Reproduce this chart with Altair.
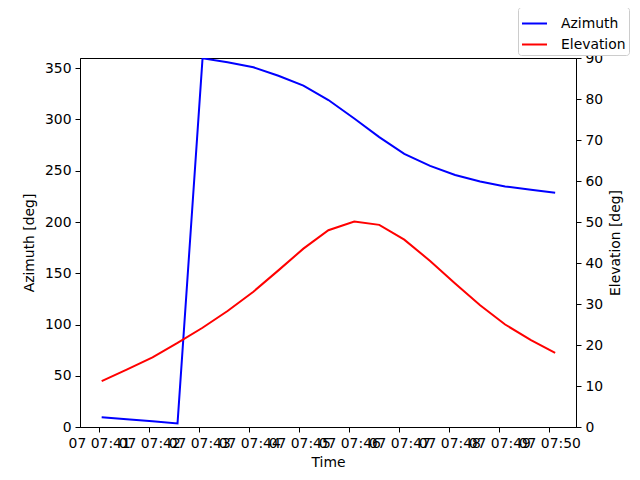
import altair as alt
import pandas as pd

times = [
    "2024-01-07T07:41:03", "2024-01-07T07:41:33", "2024-01-07T07:42:04", "2024-01-07T07:42:34",
    "2024-01-07T07:43:04", "2024-01-07T07:43:34", "2024-01-07T07:44:05", "2024-01-07T07:44:35",
    "2024-01-07T07:45:05", "2024-01-07T07:45:35", "2024-01-07T07:46:06", "2024-01-07T07:46:36",
    "2024-01-07T07:47:06", "2024-01-07T07:47:37", "2024-01-07T07:48:07", "2024-01-07T07:48:37",
    "2024-01-07T07:49:07", "2024-01-07T07:49:38", "2024-01-07T07:50:07",
]
azimuth = [9.5, 7.5, 5.5, 3.5, 359.7, 355.8, 351.0, 342.7, 333.0, 319.0, 301.0, 282.8,
           266.5, 254.8, 245.8, 239.5, 234.7, 231.4, 228.6]
elevation = [11.2, 14.0, 17.0, 20.5, 24.2, 28.3, 33.0, 38.2, 43.5, 48.0, 50.1, 49.3,
             45.7, 40.5, 35.0, 29.7, 25.0, 21.2, 18.1]

df = pd.DataFrame({"time": times, "azimuth": azimuth, "elevation": elevation})

FONT = "DejaVu Sans"
FS = 13.9

def dt(m, s):
    return alt.DateTime(year=2024, month=1, date=7, hours=7, minutes=m, seconds=s)

tick_values = [dt(m, 0) for m in range(41, 51)]

x_enc = alt.X(
    "time:T",
    scale=alt.Scale(domain=[dt(40, 37), dt(50, 32)]),
    axis=alt.Axis(
        values=tick_values, format="%d %H:%M", title="Time", labelOverlap=False,
        labelFlush=False, grid=False, tickSize=5, labelPadding=4, titlePadding=6,
        domainColor="black", tickColor="black", labelColor="black", titleColor="black",
        labelFont=FONT, titleFont=FONT, labelFontSize=FS, titleFontSize=FS,
        titleFontWeight="normal",
    ),
)

color_scale = alt.Scale(domain=["Azimuth", "Elevation"], range=["#0000ff", "#ff0000"])
legend = alt.Legend(
    title=None, orient="none", legendX=438, legendY=-51, symbolType="stroke",
    symbolSize=625, symbolStrokeWidth=2, labelFont=FONT, labelFontSize=FS,
    labelColor="black", strokeColor="#cccccc", fillColor="white", cornerRadius=3,
    padding=3, rowPadding=-4, labelOffset=13,
)

base = alt.Chart(df).encode(x=x_enc)

az = base.mark_line(strokeWidth=2, clip=True).transform_calculate(
    series="'Azimuth'"
).encode(
    y=alt.Y(
        "azimuth:Q",
        scale=alt.Scale(domain=[0, 360], nice=False, zero=True),
        axis=alt.Axis(
            orient="left", title="Azimuth [deg]", values=list(range(0, 351, 50)),
            grid=False, tickSize=5, labelPadding=4, titlePadding=8,
            domainColor="black", tickColor="black", labelColor="black", titleColor="black",
            labelFont=FONT, titleFont=FONT, labelFontSize=FS, titleFontSize=FS,
            titleFontWeight="normal",
        ),
    ),
    color=alt.Color("series:N", scale=color_scale, legend=legend),
)

el = base.mark_line(strokeWidth=2, clip=True).transform_calculate(
    series="'Elevation'"
).encode(
    y=alt.Y(
        "elevation:Q",
        scale=alt.Scale(domain=[0, 90], nice=False, zero=True),
        axis=alt.Axis(
            orient="right", title="Elevation [deg]", values=list(range(0, 91, 10)),
            grid=False, tickSize=5, labelPadding=4, titlePadding=20, titleAngle=270,
            domainColor="black", tickColor="black", labelColor="black", titleColor="black",
            labelFont=FONT, titleFont=FONT, labelFontSize=FS, titleFontSize=FS,
            titleFontWeight="normal",
        ),
    ),
    color=alt.Color("series:N", scale=color_scale, legend=legend),
)

chart = (
    alt.layer(az, el)
    .resolve_scale(y="independent")
    .properties(
        width=496, height=369,
        autosize=alt.AutoSizeParams(type="none"),
        padding={"left": 72, "top": 50, "right": 56, "bottom": 45},
        view=alt.ViewBackground(stroke="black", strokeWidth=1, fill="white"),
    )
    .configure_view(stroke="black", strokeWidth=1)
    .configure(background="white")
)

chart.save("out.html", embed_options={"renderer": "svg", "actions": False})
